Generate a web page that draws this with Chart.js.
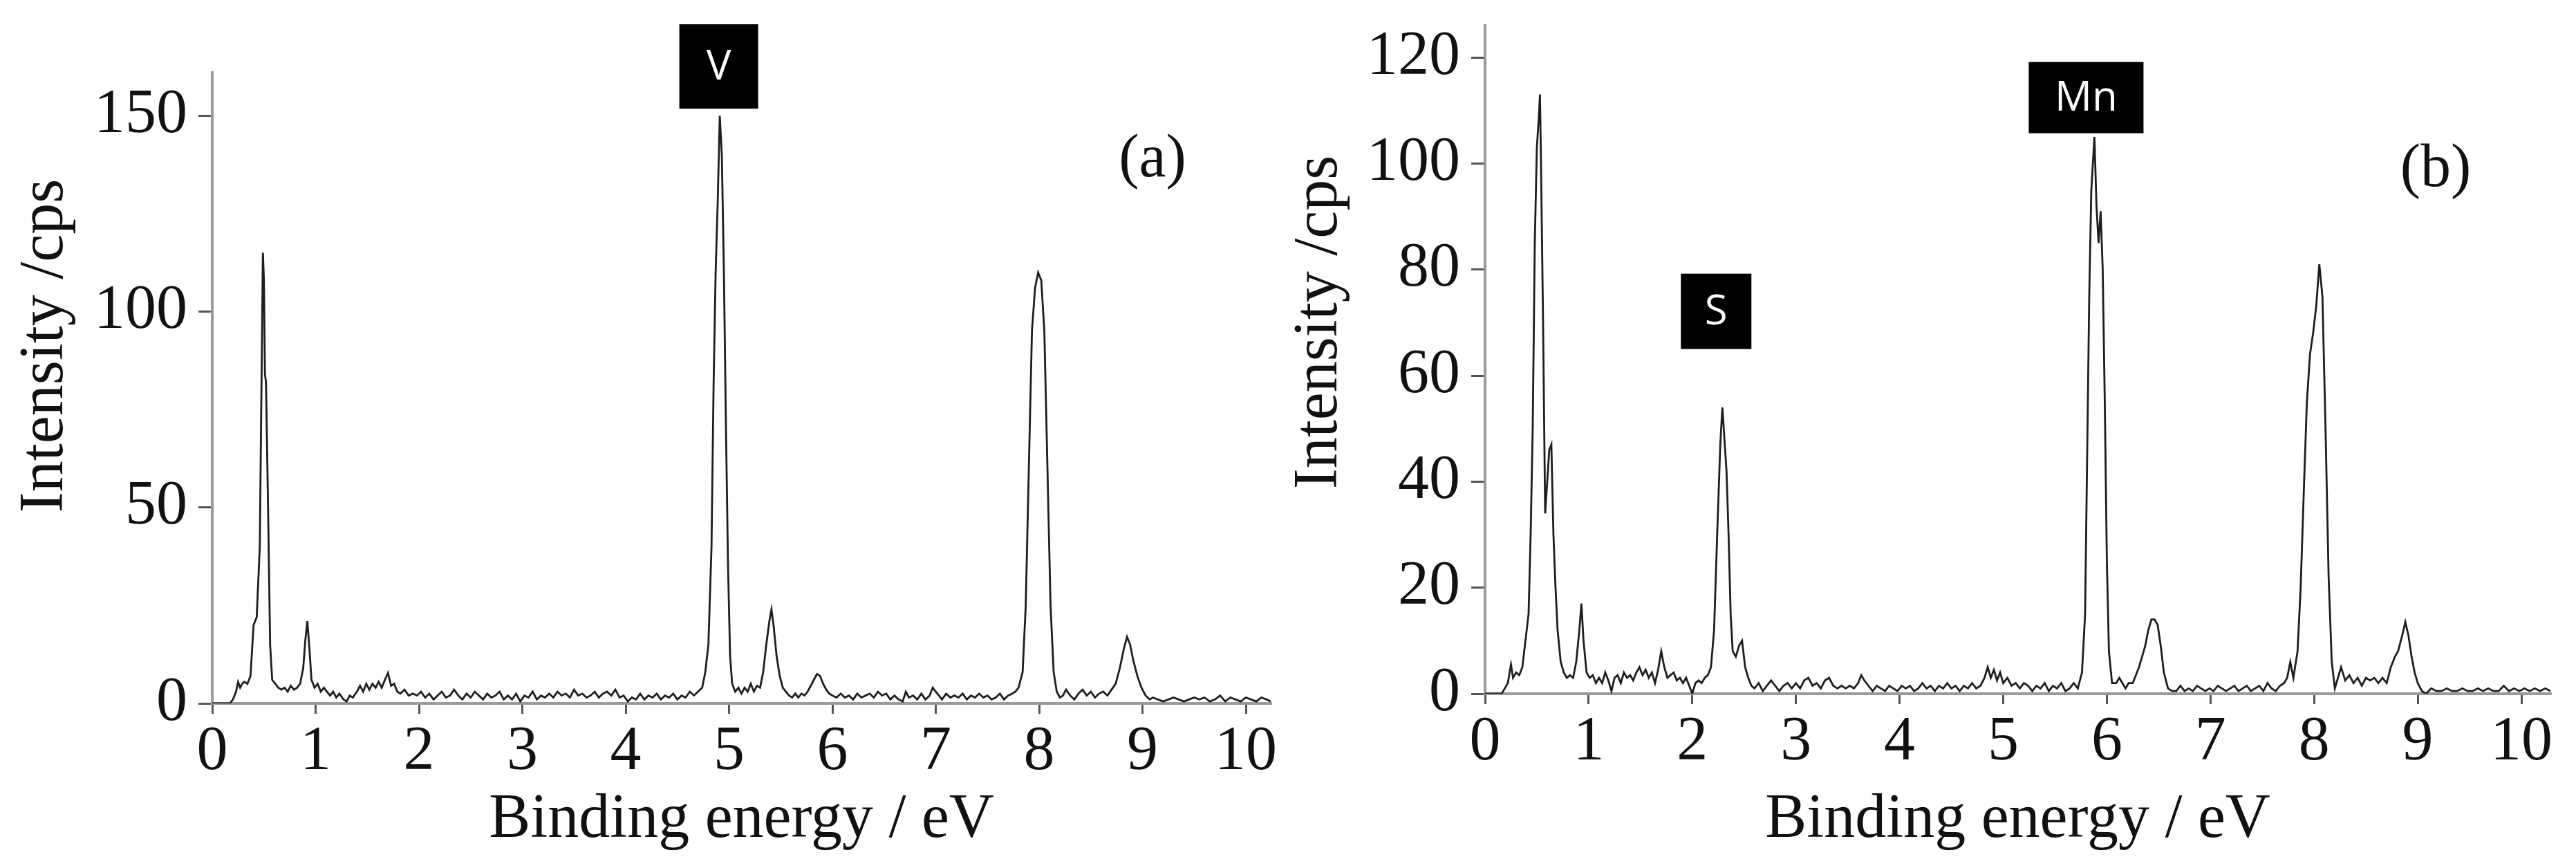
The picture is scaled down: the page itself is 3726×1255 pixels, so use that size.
<!DOCTYPE html>
<html>
<head>
<meta charset="utf-8">
<script src="https://cdn.jsdelivr.net/npm/chart.js@4.4.1/dist/chart.umd.min.js"></script>
<style>
  html, body { margin: 0; padding: 0; background: #fff; }
  body { width: 3726px; height: 1255px; position: relative; overflow: hidden; }
  .panel { position: absolute; top: 0; width: 1863px; height: 1255px; }
</style>
</head>
<body>
<div class="panel" style="left:0"><canvas id="chartA" width="1863" height="1255"></canvas></div>
<div class="panel" style="left:1863px"><canvas id="chartB" width="1863" height="1255"></canvas></div>
<script>
// spectrum (a): binding energy (eV) and intensity (cps)
const energyA = [0.00,0.10,0.17,0.20,0.23,0.25,0.27,0.29,0.31,0.34,0.37,0.40,0.43,0.46,0.48,0.49,0.50,0.51,0.52,0.54,0.56,0.58,0.61,0.64,0.67,0.70,0.73,0.76,0.79,0.82,0.85,0.88,0.90,0.92,0.94,0.96,0.99,
  1.02,1.05,1.08,1.11,1.14,1.17,1.20,1.23,1.27,1.30,1.33,1.36,1.40,1.43,1.46,1.49,1.52,1.55,1.58,1.61,1.64,1.67,1.70,1.73,1.76,1.79,1.82,1.86,1.90,1.94,1.98,
  2.02,2.06,2.10,2.14,2.18,2.22,2.26,2.30,2.34,2.38,2.42,2.46,2.50,2.54,2.58,2.62,2.66,2.70,2.74,2.78,2.82,2.86,2.90,2.94,2.98,
  3.02,3.06,3.10,3.14,3.18,3.22,3.26,3.30,3.34,3.38,3.42,3.46,3.50,3.54,3.58,3.62,3.66,3.70,3.74,3.78,3.82,3.86,3.90,3.94,3.98,
  4.02,4.06,4.10,4.14,4.18,4.22,4.26,4.30,4.34,4.38,4.42,4.46,4.50,4.54,4.58,4.62,4.66,4.70,4.74,4.77,4.80,4.83,4.85,4.87,4.89,4.91,4.93,4.95,4.97,4.99,
  5.01,5.03,5.06,5.09,5.12,5.15,5.18,5.21,5.24,5.27,5.30,5.33,5.36,5.39,5.41,5.43,5.46,5.49,5.52,5.55,5.58,5.61,5.64,5.67,5.70,5.73,5.76,5.79,5.82,5.85,5.88,5.91,5.94,5.97,
  6.00,6.04,6.08,6.12,6.16,6.20,6.24,6.28,6.32,6.36,6.40,6.44,6.48,6.52,6.56,6.60,6.64,6.68,6.71,6.74,6.78,6.82,6.86,6.90,6.94,6.97,
  7.00,7.03,7.06,7.10,7.14,7.18,7.22,7.26,7.30,7.34,7.38,7.42,7.46,7.50,7.54,7.58,7.62,7.66,7.70,7.74,7.77,7.80,7.84,7.87,7.90,7.93,7.96,7.99,
  8.02,8.05,8.08,8.11,8.14,8.17,8.20,8.23,8.26,8.30,8.34,8.38,8.42,8.46,8.50,8.54,8.58,8.62,8.66,8.70,8.74,8.78,8.82,8.85,8.88,8.91,8.95,8.99,
  9.03,9.07,9.10,9.15,9.20,9.25,9.30,9.35,9.40,9.45,9.50,9.55,9.60,9.65,9.70,9.75,9.80,9.85,9.90,9.95,10.00,10.05,10.10,10.15,10.20,10.24];
const countsA = [0,0,0,1,3,5.5,4,5,5.5,5,7,20,22,40,90,115,108,84,82,50,15,6,5,4,3.5,4,3,4.5,3.5,4,5,9,16,21,14,6,4,
  5,3,4,3,2,3,1.5,2.5,1,0.5,2,1.5,3,4.5,3,5,3.5,5,4,5.5,4,6,7.8,4.5,5,3,2.5,3.5,2,2.5,2,
  3,1.5,2.5,1,2,3,1.5,2,3.5,2,1,2.5,1.5,3,2,1,2.5,1.5,2,3,1,2,1,2.5,0.5,
  2,1.5,3,1,2,1.5,2.5,1.5,3,2,2.5,1.5,3.5,2,2.5,1.5,2,3,1.5,2.5,3,2,3.5,1.5,2,
  0.5,1.5,1,2.5,1,2,1.5,2.5,1,2,1.5,2.5,1,2,1.5,3,2,3,4,8,15,40,81,110,128,150,140,110,70,35,
  12,5,3,4,2.5,4,3,5,3,4.5,4,8,15,21,24,20,12,7,4,3,2,1.5,2.5,1.5,2.5,2,3,4.5,6,7.5,7,5,3.5,2.5,
  2,1.5,2.5,1.5,2,1,2.5,1.5,2,2.5,1.5,3,2,2.5,1,2,1,0.5,3,1.5,2,1,2.5,1,2,4,
  3,2,1,2.5,1.5,2,1.5,2.5,1,2,1.5,2.5,1.5,2,1,1.5,2.5,1,2,2.5,3,4,8,25,60,95,106,110,
  108,95,60,25,8,3,1.5,2,3.5,2,1,2.5,3.5,2,3,1.5,2.5,3,2,3.5,5,9,14,17,15,11,7,4,
  2,1,1.5,1,0.5,1,1.5,1,0.5,1,1.5,1,1.5,0.5,1,2,0.5,1.5,1,0.5,1.5,1,0.5,1.5,1,0.5];

// spectrum (b)
const energyB = [0.00,0.10,0.16,0.19,0.22,0.25,0.27,0.30,0.33,0.36,0.39,0.42,0.44,0.46,0.48,0.50,0.52,0.53,0.54,0.56,0.58,0.60,0.62,0.64,0.66,0.68,0.70,0.73,0.76,0.79,0.82,0.85,0.88,0.91,0.93,0.95,0.98,
  1.01,1.04,1.07,1.10,1.13,1.16,1.19,1.22,1.25,1.28,1.31,1.34,1.37,1.40,1.43,1.46,1.49,1.52,1.55,1.58,1.61,1.64,1.67,1.70,1.73,1.76,1.79,1.82,1.85,1.88,1.91,1.94,1.97,
  2.00,2.03,2.06,2.09,2.12,2.15,2.18,2.21,2.24,2.27,2.29,2.31,2.33,2.35,2.37,2.39,2.42,2.45,2.48,2.51,2.54,2.57,2.60,2.64,2.68,2.72,2.76,2.80,2.84,2.88,2.92,2.96,
  3.00,3.04,3.08,3.12,3.16,3.20,3.24,3.28,3.32,3.36,3.40,3.44,3.48,3.52,3.56,3.60,3.63,3.66,3.70,3.74,3.78,3.82,3.86,3.90,3.94,3.98,
  4.02,4.06,4.10,4.14,4.18,4.22,4.26,4.30,4.34,4.38,4.42,4.46,4.50,4.54,4.58,4.62,4.66,4.70,4.74,4.78,4.82,4.85,4.88,4.91,4.94,4.97,
  5.00,5.04,5.08,5.12,5.16,5.20,5.24,5.28,5.32,5.36,5.40,5.44,5.48,5.52,5.56,5.60,5.64,5.68,5.72,5.76,5.79,5.81,5.83,5.85,5.88,5.90,5.92,5.94,5.96,5.98,
  6.00,6.02,6.05,6.09,6.12,6.15,6.18,6.21,6.25,6.28,6.31,6.34,6.37,6.40,6.43,6.46,6.49,6.52,6.55,6.59,6.63,6.67,6.71,6.75,6.79,6.83,6.87,6.91,6.95,6.99,
  7.03,7.07,7.11,7.15,7.19,7.23,7.27,7.31,7.35,7.39,7.43,7.47,7.51,7.55,7.59,7.63,7.67,7.71,7.74,7.77,7.80,7.84,7.87,7.90,7.93,7.96,7.99,
  8.02,8.05,8.08,8.11,8.14,8.17,8.20,8.23,8.26,8.30,8.34,8.38,8.42,8.46,8.50,8.54,8.58,8.62,8.66,8.70,8.74,8.78,8.81,8.85,8.88,8.91,8.94,8.97,
  9.00,9.04,9.08,9.13,9.18,9.23,9.28,9.33,9.38,9.43,9.48,9.53,9.58,9.63,9.68,9.73,9.78,9.83,9.88,9.93,9.98,10.03,10.08,10.13,10.18,10.23,10.28];
const countsB = [0,0,0,1,2,5.5,3,4,3.5,5,10,15,30,50,85,103,109,113,100,70,34,40,46,47,30,20,12,6,4,3,3.5,3,6,12,17,10,4,
  3,3.5,2,3,2,4,2.5,0.5,3,3.5,2,4,3,3.5,2.5,4,5,3.5,4.5,3,4,2,4.5,8,5,3,3.5,4,2.5,3,2,3,1.5,
  0,2,2.5,2,3,3.5,5,12,30,47,54,48,42,30,15,8,7,9,10,5,3,1.5,1,2,0.5,1.5,2.5,1.5,0.5,1.5,2,1,
  2,1,2.5,3,1.5,2,1,2.5,3,1.5,1,1.5,1,1.5,1,2,3.5,2.5,1.5,0.5,1.5,1,0.5,1.5,1,0.5,
  1.5,1,1.5,0.5,1,2,1,1.5,0.5,1.5,1,2,1,1.5,0.5,1.5,1,2,1,1.5,3,5,3,4.5,2.5,4,
  2,3,1.5,2,1,2,1.5,0.5,1.5,1,2,0.5,1.5,1,2,0.5,1,2,1,4,15,45,75,95,105,92,85,91,80,55,
  25,8,2,2,3,2,1,2,2,3.5,5,7,9,12,14,14,13,9,4,1,0.5,0.5,1.5,0.5,1,0.5,1.5,1,0.5,1,
  0.5,1.5,1,0.5,1,1.5,0.5,1,1.5,0.5,1,1.5,0.5,2,1,0.5,1.5,2,3,6,3,8,20,38,55,64,68,
  73,81,75,50,22,6,1,3,5,2.5,3.5,2,3,1.5,3,2.5,3,2,3,2,5,7,8,11,13.5,11,7,4,
  2,0.5,0,1,0.5,0.5,1,0.5,0.5,1,0.5,0.5,1,0.5,1,0.5,0.5,1.5,0.5,1,0.5,1,0.5,1,0.5,1,0.5];

const ticksX = [0, 1, 2, 3, 4, 5, 6, 7, 8, 9, 10];
const ticksYA = [0, 50, 100, 150];
const ticksYB = [0, 20, 40, 60, 80, 100, 120];

// element tags: name, centre energy, bottom intensity
const tagNamesA = ['V'];
const tagEnergyA = [4.9];
const tagLevelA = [151.8];
const tagNamesB = ['S', 'Mn'];
const tagEnergyB = [2.23, 5.8];
const tagLevelB = [65, 105.7];

const serif = '"Liberation Serif", "Times New Roman", serif';

const decor = {
  id: 'decor',
  afterDatasetsDraw(chart, args, opts) {
    const ctx = chart.ctx;
    const xs = chart.scales.x, ys = chart.scales.y;
    ctx.save();
    opts.names.forEach((name, i) => {
      const cx = xs.getPixelForValue(opts.energy[i]);
      const by = ys.getPixelForValue(opts.level[i]);
      const w = opts.boxW[i], h = opts.boxH[i];
      ctx.fillStyle = '#000';
      ctx.fillRect(cx - w / 2, by - h, w, h);
      ctx.fillStyle = '#fff';
      ctx.font = '60px "Open Sans", sans-serif';
      ctx.textAlign = 'center';
      ctx.textBaseline = 'middle';
      ctx.fillText(name, cx, by - h / 2 + 2);
    });
    ctx.fillStyle = '#111';
    ctx.font = '88px ' + serif;
    ctx.textAlign = 'center';
    ctx.textBaseline = 'middle';
    ctx.fillText(opts.letter, opts.letterX, opts.letterY);
    // axis titles
    ctx.font = '90px ' + serif;
    ctx.fillText('Binding energy / eV', (chart.chartArea.left + chart.chartArea.right) / 2, 1186);
    ctx.translate(opts.yTitleX, opts.yTitleY);
    ctx.rotate(-Math.PI / 2);
    ctx.fillText('Intensity /cps', 0, 0);
    ctx.restore();
  }
};

function makeChart(id, energy, counts, xMax, yMax, yTicks, area, decorOpts) {
  const points = energy.map((e, i) => ({ x: e, y: counts[i] }));
  return new Chart(document.getElementById(id), {
    type: 'line',
    data: {
      datasets: [{
        data: points,
        borderColor: '#1e1e1e',
        borderWidth: 2.8,
        pointRadius: 0,
        tension: 0,
        fill: false
      }]
    },
    options: {
      responsive: false,
      animation: false,
      layout: { padding: { left: 0, top: area.top, right: 1863 - area.right, bottom: 0 } },
      plugins: { legend: { display: false }, tooltip: { enabled: false }, decor: decorOpts },
      scales: {
        x: {
          type: 'linear',
          min: 0,
          max: xMax,
          afterBuildTicks: s => { s.ticks = ticksX.map(v => ({ value: v })); },
          afterFit: s => { s.height = 1255 - area.bottom; s.paddingRight = 0; s.paddingLeft = 0; },
          ticks: { color: '#111', font: { family: serif, size: 90 }, padding: 2, maxRotation: 0 },
          grid: { drawOnChartArea: false, tickLength: 15, color: '#555', lineWidth: 3 },
          border: { color: '#9a9a9a', width: 4 }
        },
        y: {
          min: 0,
          max: yMax,
          afterBuildTicks: s => { s.ticks = yTicks.map(v => ({ value: v })); },
          afterFit: s => { s.width = area.left; s.paddingTop = 0; s.paddingBottom = 0; },
          ticks: { color: '#111', font: { family: serif, size: 90 }, padding: 16 },
          grid: { drawOnChartArea: false, tickLength: 20, color: '#555', lineWidth: 3 },
          border: { color: '#9a9a9a', width: 4 }
        }
      }
    },
    plugins: [decor]
  });
}

makeChart('chartA', energyA, countsA, 10.24, 161, ticksYA,
  { left: 307, right: 1838, top: 105, bottom: 1017 },
  { names: tagNamesA, energy: tagEnergyA, level: tagLevelA, boxW: [114], boxH: [122],
    letter: '(a)', letterX: 1667, letterY: 232, yTitleX: 66, yTitleY: 500 });

makeChart('chartB', energyB, countsB, 10.28, 126, ticksYB,
  { left: 285, right: 1826, top: 37, bottom: 1003 },
  { names: tagNamesB, energy: tagEnergyB, level: tagLevelB, boxW: [102, 166], boxH: [109, 103],
    letter: '(b)', letterX: 1660, letterY: 246, yTitleX: 46, yTitleY: 466 });
</script>
</body>
</html>
